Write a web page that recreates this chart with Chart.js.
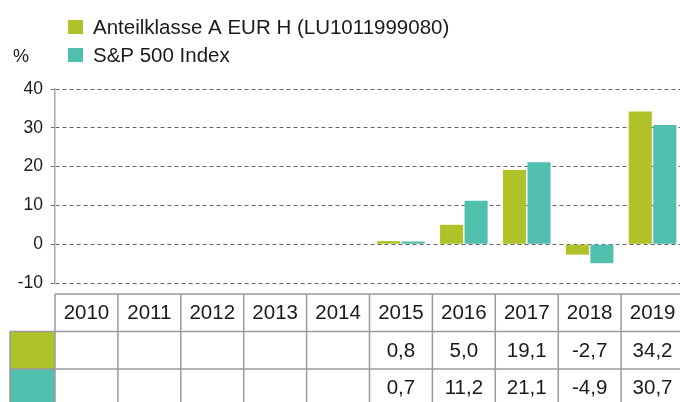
<!DOCTYPE html>
<html>
<head>
<meta charset="utf-8">
<script src="https://cdn.jsdelivr.net/npm/chart.js@4.4.1/dist/chart.umd.min.js"></script>
<style>
  html, body { margin: 0; padding: 0; background: #fff; overflow: hidden; }
  #wrap { position: relative; width: 686px; height: 402px; }
</style>
</head>
<body>
<div id="wrap"><canvas id="chart"></canvas></div>
<script>
// Chart data
const years = ['2010', '2011', '2012', '2013', '2014', '2015', '2016', '2017', '2018', '2019'];
const fundValues = [null, null, null, null, null, 0.8, 5.0, 19.1, -2.7, 34.2];
const indexValues = [null, null, null, null, null, 0.7, 11.2, 21.1, -4.9, 30.7];
const seriesLabels = ['Anteilklasse A EUR H (LU1011999080)', 'S&P 500 Index'];
const yTicks = [-10, 0, 10, 20, 30, 40];

const GREEN = '#afc227';
const TEAL = '#50bfae';
const FONT = '"Liberation Sans", Arial, Helvetica, sans-serif';

function fmt(v) {
  return v == null ? '' : v.toFixed(1).replace('.', ',');
}

/**
 * Legend and "%" label at the top left
 */
const legendPlugin = {
  id: 'topLegend',
  afterDraw(chart) {
    const ctx = chart.ctx;
    ctx.save();
    ctx.font = '20.5px ' + FONT;
    ctx.textBaseline = 'middle';
    chart.data.datasets.forEach((ds, i) => {
      const y = 20 + i * 28;
      ctx.fillStyle = ds.backgroundColor;
      ctx.fillRect(68, y, 15, 14);
      ctx.fillStyle = '#1a1a1a';
      ctx.textAlign = 'left';
      ctx.fillText(ds.label, 93, y + 8);
    });
    ctx.font = '18px ' + FONT;
    ctx.fillText('%', 13, 57);
    ctx.restore();
  }
};

/**
 * Data table under the plot, columns taken from the x scale
 */
const tablePlugin = {
  id: 'dataTable',
  afterDraw(chart) {
    const ctx = chart.ctx;
    const x = chart.scales.x;
    const area = chart.chartArea;
    const top = 294, rowH = 37.5;
    const rows = [top, top + rowH, top + 2 * rowH, top + 3 * rowH];
    const edges = [area.left];
    for (let i = 0; i < years.length - 1; i++) {
      edges.push((x.getPixelForValue(i) + x.getPixelForValue(i + 1)) / 2);
    }
    edges.push(area.right);

    ctx.save();
    // legend colour cells
    const keyLeft = 10;
    chart.data.datasets.forEach((ds, i) => {
      ctx.fillStyle = ds.backgroundColor;
      ctx.fillRect(keyLeft, rows[i + 1], area.left - keyLeft, rowH);
    });

    ctx.strokeStyle = '#9a9a9a';
    ctx.lineWidth = 1.5;
    ctx.beginPath();
    // horizontal lines
    ctx.moveTo(area.left, rows[0]); ctx.lineTo(area.right + 4, rows[0]);
    for (let r = 1; r < rows.length; r++) {
      ctx.moveTo(keyLeft, rows[r]); ctx.lineTo(area.right + 4, rows[r]);
    }
    // vertical lines
    edges.forEach(e => { ctx.moveTo(e, rows[0]); ctx.lineTo(e, rows[3]); });
    ctx.moveTo(keyLeft, rows[1]); ctx.lineTo(keyLeft, rows[3]);
    ctx.stroke();

    ctx.fillStyle = '#1a1a1a';
    ctx.font = '20.5px ' + FONT;
    ctx.textAlign = 'center';
    ctx.textBaseline = 'middle';
    years.forEach((yr, i) => {
      const cx = (edges[i] + edges[i + 1]) / 2;
      ctx.fillText(yr, cx, rows[0] + rowH / 2 + 1);
      chart.data.datasets.forEach((ds, j) => {
        ctx.fillText(fmt(ds.data[i]), cx, rows[j + 1] + rowH / 2 + 1);
      });
    });
    ctx.restore();
  }
};

new Chart(document.getElementById('chart'), {
  type: 'bar',
  data: {
    labels: years,
    datasets: [
      {
        label: seriesLabels[0],
        data: fundValues,
        backgroundColor: GREEN,
        categoryPercentage: 0.78,
        barPercentage: 0.94
      },
      {
        label: seriesLabels[1],
        data: indexValues,
        backgroundColor: TEAL,
        categoryPercentage: 0.78,
        barPercentage: 0.94
      }
    ]
  },
  options: {
    responsive: true,
    maintainAspectRatio: false,
    animation: false,
    layout: { padding: { top: 89, bottom: 119, left: 0, right: 2 } },
    plugins: {
      legend: { display: false },
      tooltip: { enabled: false }
    },
    scales: {
      x: { display: false },
      y: {
        min: -10,
        max: 40,
        afterFit: s => { s.width = 55; },
        afterBuildTicks: s => { s.ticks = yTicks.map(v => ({ value: v })); },
        border: { display: true, color: '#a8a8a8', width: 1.5, dash: [4, 3] },
        grid: {
          color: '#666',
          lineWidth: 1,
          tickLength: 4,
          tickBorderDash: [4, 3]
        },
        ticks: {
          color: '#1a1a1a',
          padding: 8,
          font: { family: FONT, size: 17.5 }
        }
      }
    }
  },
  plugins: [legendPlugin, tablePlugin]
});
</script>
</body>
</html>
